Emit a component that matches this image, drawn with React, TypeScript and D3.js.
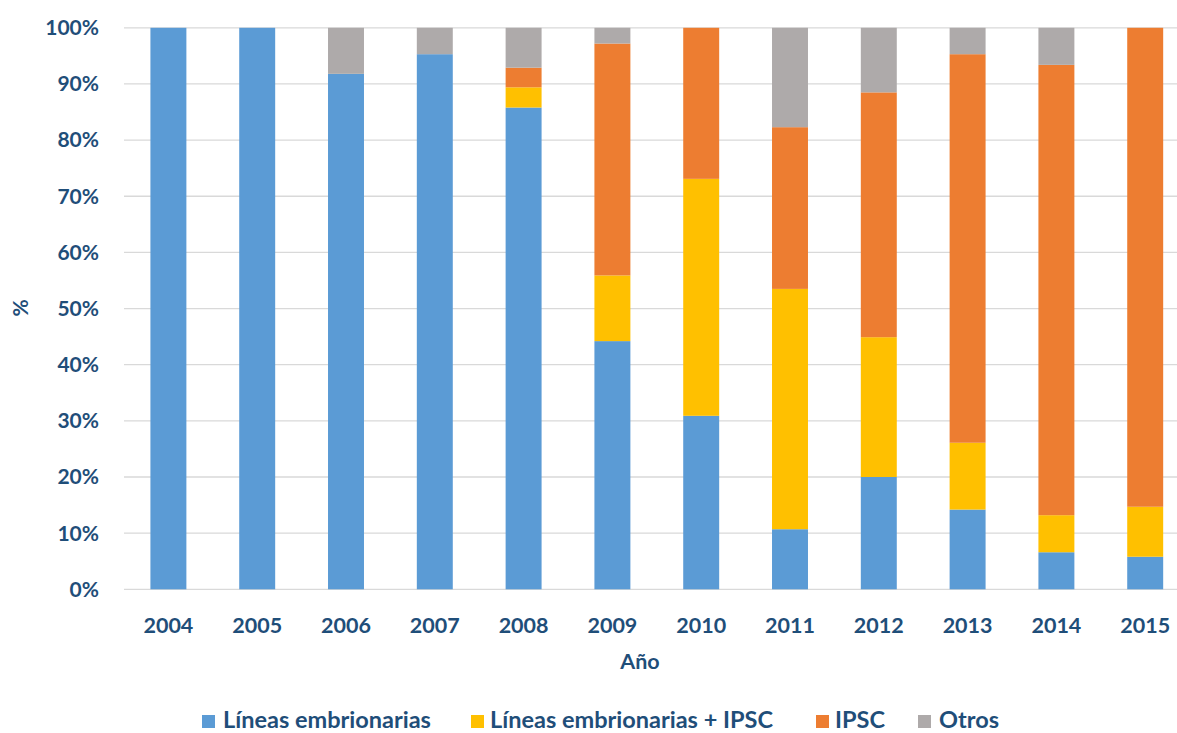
import React from "react";
import * as d3 from "d3";

const years = ["2004","2005","2006","2007","2008","2009","2010","2011","2012","2013","2014","2015"];
const seriesNames = ["Líneas embrionarias","Líneas embrionarias + IPSC","IPSC","Otros"];
const seriesColors = ["#5B9BD5","#FFC000","#ED7D31","#AEAAAA"];
const lineasEmbrionarias = [100,100,91.8,95.3,85.8,44.2,30.9,10.7,20.0,14.2,6.6,5.8];
const lineasMasIPSC = [0,0,0,0,3.6,11.7,42.2,42.8,24.9,11.9,6.6,8.9];
const ipsc = [0,0,0,0,3.5,41.3,26.9,28.8,43.6,69.2,80.2,85.3];
const otros = [0,0,8.2,4.7,7.1,2.8,0,17.7,11.5,4.7,6.6,0];
const yTicks = [0,10,20,30,40,50,60,70,80,90,100];

const W = 1177, H = 733;
const FONT = "Lato, 'Open Sans', sans-serif";
const TEXT = "#1F4E79";

export default function App() {
  const rows = years.map((y, i) => ({
    year: y,
    a: lineasEmbrionarias[i],
    b: lineasMasIPSC[i],
    c: ipsc[i],
    d: otros[i],
  }));
  const keys = ["a","b","c","d"];
  const stacked = d3.stack<any>().keys(keys)(rows);

  const x = d3.scaleBand<string>().domain(years).range([124, 1189.6]).paddingInner(0.595).paddingOuter(0.2975);
  const y = d3.scaleLinear().domain([0, 100]).range([589.3, 27.8]);

  const legendItems = [
    { sx: 202, tx: 223 },
    { sx: 471, tx: 490 },
    { sx: 816, tx: 835 },
    { sx: 918, tx: 939 },
  ];

  return (
    <svg width={W} height={H} style={{ position: "absolute", left: 0, top: 0, background: "#fff" }}>
      <rect x={0} y={0} width={W} height={H} fill="#fff" />
      {yTicks.map((t) => (
        <g key={t}>
          <line x1={124} x2={1177} y1={y(t)} y2={y(t)} stroke="#D9D9D9" strokeWidth={1.3} />
          <text x={99} y={y(t)} dy="0.35em" textAnchor="end" fontFamily={FONT} fontWeight={700} fontSize={21} fill={TEXT}>
            {t}%
          </text>
        </g>
      ))}
      {stacked.map((s, si) => (
        <g key={si} fill={seriesColors[si]}>
          {s.map((d, i) => {
            const h = y(d[0]) - y(d[1]);
            if (h <= 0.01) return null;
            return (
              <rect key={i} x={x(years[i])!} width={x.bandwidth()} y={y(d[1])} height={h} />
            );
          })}
        </g>
      ))}
      {years.map((yr) => (
        <text key={yr} x={x(yr)! + x.bandwidth() / 2} y={633} textAnchor="middle" fontFamily={FONT} fontWeight={700} fontSize={21.5} fill={TEXT}>
          {yr}
        </text>
      ))}
      <text x={640} y={669} textAnchor="middle" fontFamily={FONT} fontWeight={700} fontSize={21.5} fill={TEXT}>Año</text>
      <text transform="translate(28,308) rotate(-90)" textAnchor="middle" fontFamily={FONT} fontWeight={700} fontSize={21} fill={TEXT}>%</text>
      {legendItems.map((it, i) => (
        <g key={i}>
          <rect x={it.sx} y={715} width={13} height={13} fill={seriesColors[i]} />
          <text x={it.tx} y={728} fontFamily={FONT} fontWeight={700} fontSize={23.5} fill={TEXT}>{seriesNames[i]}</text>
        </g>
      ))}
    </svg>
  );
}
